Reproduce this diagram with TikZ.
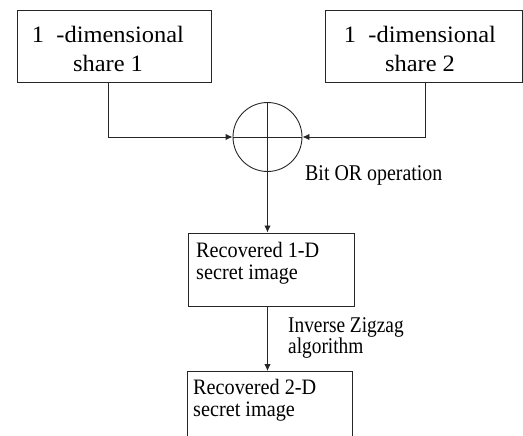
\documentclass[tikz,border=0pt]{standalone}
\usepackage{fontspec}
\setmainfont{Liberation Serif}
\newfontfamily\wideserif[FakeStretch=1.04]{Liberation Serif}
\newfontfamily\boxserif[FakeStretch=0.92]{Liberation Serif}
\newfontfamily\narrowserif[FakeStretch=0.86]{Liberation Serif}
\newfontfamily\oplserif[FakeStretch=0.885]{Liberation Serif}
\usetikzlibrary{arrows.meta}
\begin{document}
\begin{tikzpicture}[x=1pt,y=-1pt,
  line/.style={line width=0.9pt,draw=black!85},
  arr/.style={line,-{Latex[length=7pt,width=6.5pt]}},
  boxshape/.style={line,rectangle,inner sep=0pt,anchor=north west},
  bigtext/.style={inner sep=0pt,anchor=north,align=center,font=\wideserif\fontsize{23.5}{28.5}\selectfont},
  boxtext/.style={anchor=north west,inner sep=0pt,align=left,font=\boxserif\fontsize{22}{21.5}\selectfont},
  lbl/.style={inner sep=0pt,align=left,font=\narrowserif\fontsize{22.5}{20.5}\selectfont}]
\useasboundingbox (0,0) rectangle (523,436);
% top boxes
\node[boxshape,minimum width=194pt,minimum height=72pt] (s1) at (17,10) {};
\node[bigtext] (s1t) at (108,26) {1\ \ -dimensional\\share 1};
\node[boxshape,minimum width=197pt,minimum height=72pt] (s2) at (325,10) {};
\node[bigtext] (s2t) at (420,26) {1\ \ -dimensional\\share 2};
% OR circle
\node[line,circle,minimum size=69pt,inner sep=0pt] (or) at (267.5,137) {};
\draw[line] (or.west) -- (or.east);
% recovered boxes
\node[boxshape,minimum width=166pt,minimum height=73pt] (r1) at (188,232.5) {};
\node[boxtext] (r1t) at (196,242.5) {Recovered 1-D\\secret image};
\node[boxshape,minimum width=165pt,minimum height=90pt] (r2) at (187,371) {};
\node[boxtext] (r2t) at (193,379.5) {Recovered 2-D\\secret image};
% connectors
\coordinate (c1) at (108,82);
\coordinate (c2) at (425,82);
\draw[arr] (c1) |- (or.west);
\draw[arr] (c2) |- (or.east);
\draw[arr] (or.north) -- (r1.north -| or.north);
\draw[arr] (r1.south -| or.north) -- (r2.north -| or.north);
% labels
\node[lbl,anchor=base west,font=\oplserif\fontsize{22.5}{20}\selectfont] (opl) at (305,180) {Bit OR operation};
\node[lbl,anchor=north west] (zzl) at (288,317.5) {Inverse Zigzag\\algorithm};
\end{tikzpicture}
\end{document}
